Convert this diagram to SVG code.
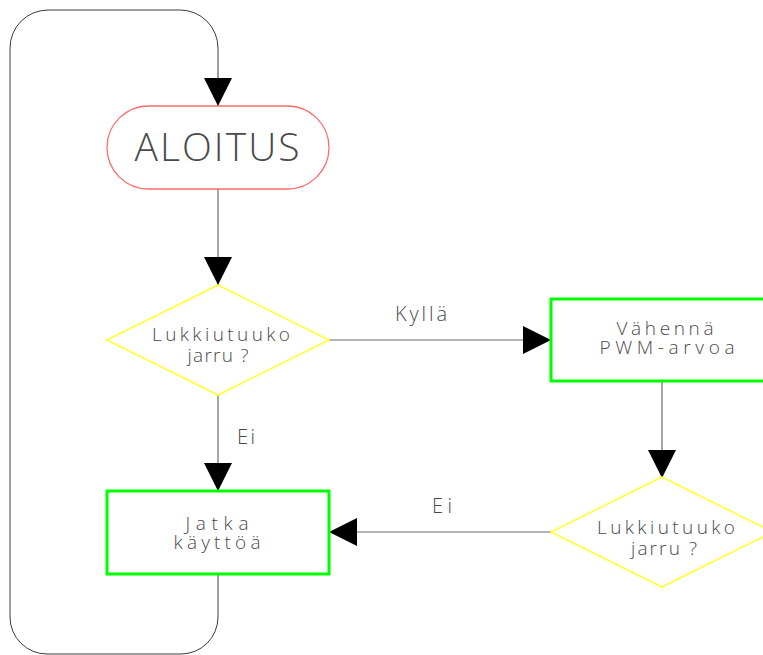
<svg xmlns="http://www.w3.org/2000/svg" width="763" height="655" viewBox="0 0 763 655">
<style>
.bg{fill:#ffffff}
.conn{fill:none;stroke:#6a6a6a;stroke-width:1.2}
.loop{fill:none;stroke:#3a3a3a;stroke-width:1}
.term{fill:#ffffff;stroke:#ff6a6a;stroke-width:1.3}
.dec{fill:#ffffff;stroke:#ffff33;stroke-width:1.6}
.proc{fill:#ffffff;stroke:#00ff00;stroke-width:3}
text{font-family:"Open Sans","Liberation Sans",sans-serif;font-weight:300;fill:#4a4a4a;text-anchor:middle}
.big{font-size:39px}
.sm{font-size:20px}
.ml{font-size:19px}
</style>
<defs>
<marker id="ah" markerUnits="userSpaceOnUse" markerWidth="28" markerHeight="28" viewBox="0 0 27 27" refX="27" refY="13.5" orient="auto">
<path d="M0,0 L27,13.5 L0,27 Z" fill="#000000"/>
</marker>
</defs>
<rect class="bg" x="0" y="0" width="763" height="655"/>
<g id="connectors">
<path class="loop" d="M218,574 V617 A37,37 0 0 1 181,654 H47 A37,37 0 0 1 10,617 V48 A38,38 0 0 1 48,10 H180 A38,38 0 0 1 218,48 V106" marker-end="url(#ah)"/>
<path class="conn" d="M218,189 V285" marker-end="url(#ah)"/>
<path class="conn" d="M218,395 V491" marker-end="url(#ah)"/>
<path class="conn" d="M329,340 H551" marker-end="url(#ah)"/>
<path class="conn" d="M662,381 V478" marker-end="url(#ah)"/>
<path class="conn" d="M551,532 H329" marker-end="url(#ah)"/>
<text class="sm" x="421" y="321" textLength="52" lengthAdjust="spacing">Kyllä</text>
<text class="sm" x="246" y="444" textLength="18" lengthAdjust="spacing">Ei</text>
<text class="sm" x="442" y="513" textLength="20" lengthAdjust="spacing">Ei</text>
</g>
<g id="aloitus">
<rect class="term" x="107" y="106" width="222" height="83" rx="41.5" ry="41.5"/>
<text class="big" x="217" y="161" textLength="165" lengthAdjust="spacing">ALOITUS</text>
</g>
<g id="decision1">
<polygon class="dec" points="218,285 329,340 218,395 107,340"/>
<text class="ml" x="221" y="341" textLength="138" lengthAdjust="spacing">Lukkiutuuko</text>
<text class="ml" x="218" y="362" textLength="61" lengthAdjust="spacing">jarru ?</text>
</g>
<g id="vahenna">
<rect class="proc" x="551" y="299" width="222" height="82"/>
<text class="ml" x="665" y="335" textLength="97" lengthAdjust="spacing">Vähennä</text>
<text class="ml" x="667" y="354" textLength="135" lengthAdjust="spacing">PWM-arvoa</text>
</g>
<g id="decision2">
<polygon class="dec" points="662,477 773,532 662,587 551,532"/>
<text class="ml" x="666" y="534" textLength="138" lengthAdjust="spacing">Lukkiutuuko</text>
<text class="ml" x="664" y="555" textLength="66" lengthAdjust="spacing">jarru ?</text>
</g>
<g id="jatka">
<rect class="proc" x="107" y="491" width="222" height="83"/>
<text class="ml" x="217" y="530" textLength="63" lengthAdjust="spacing">Jatka</text>
<text class="ml" x="217" y="549" textLength="87" lengthAdjust="spacing">käyttöä</text>
</g>
</svg>
